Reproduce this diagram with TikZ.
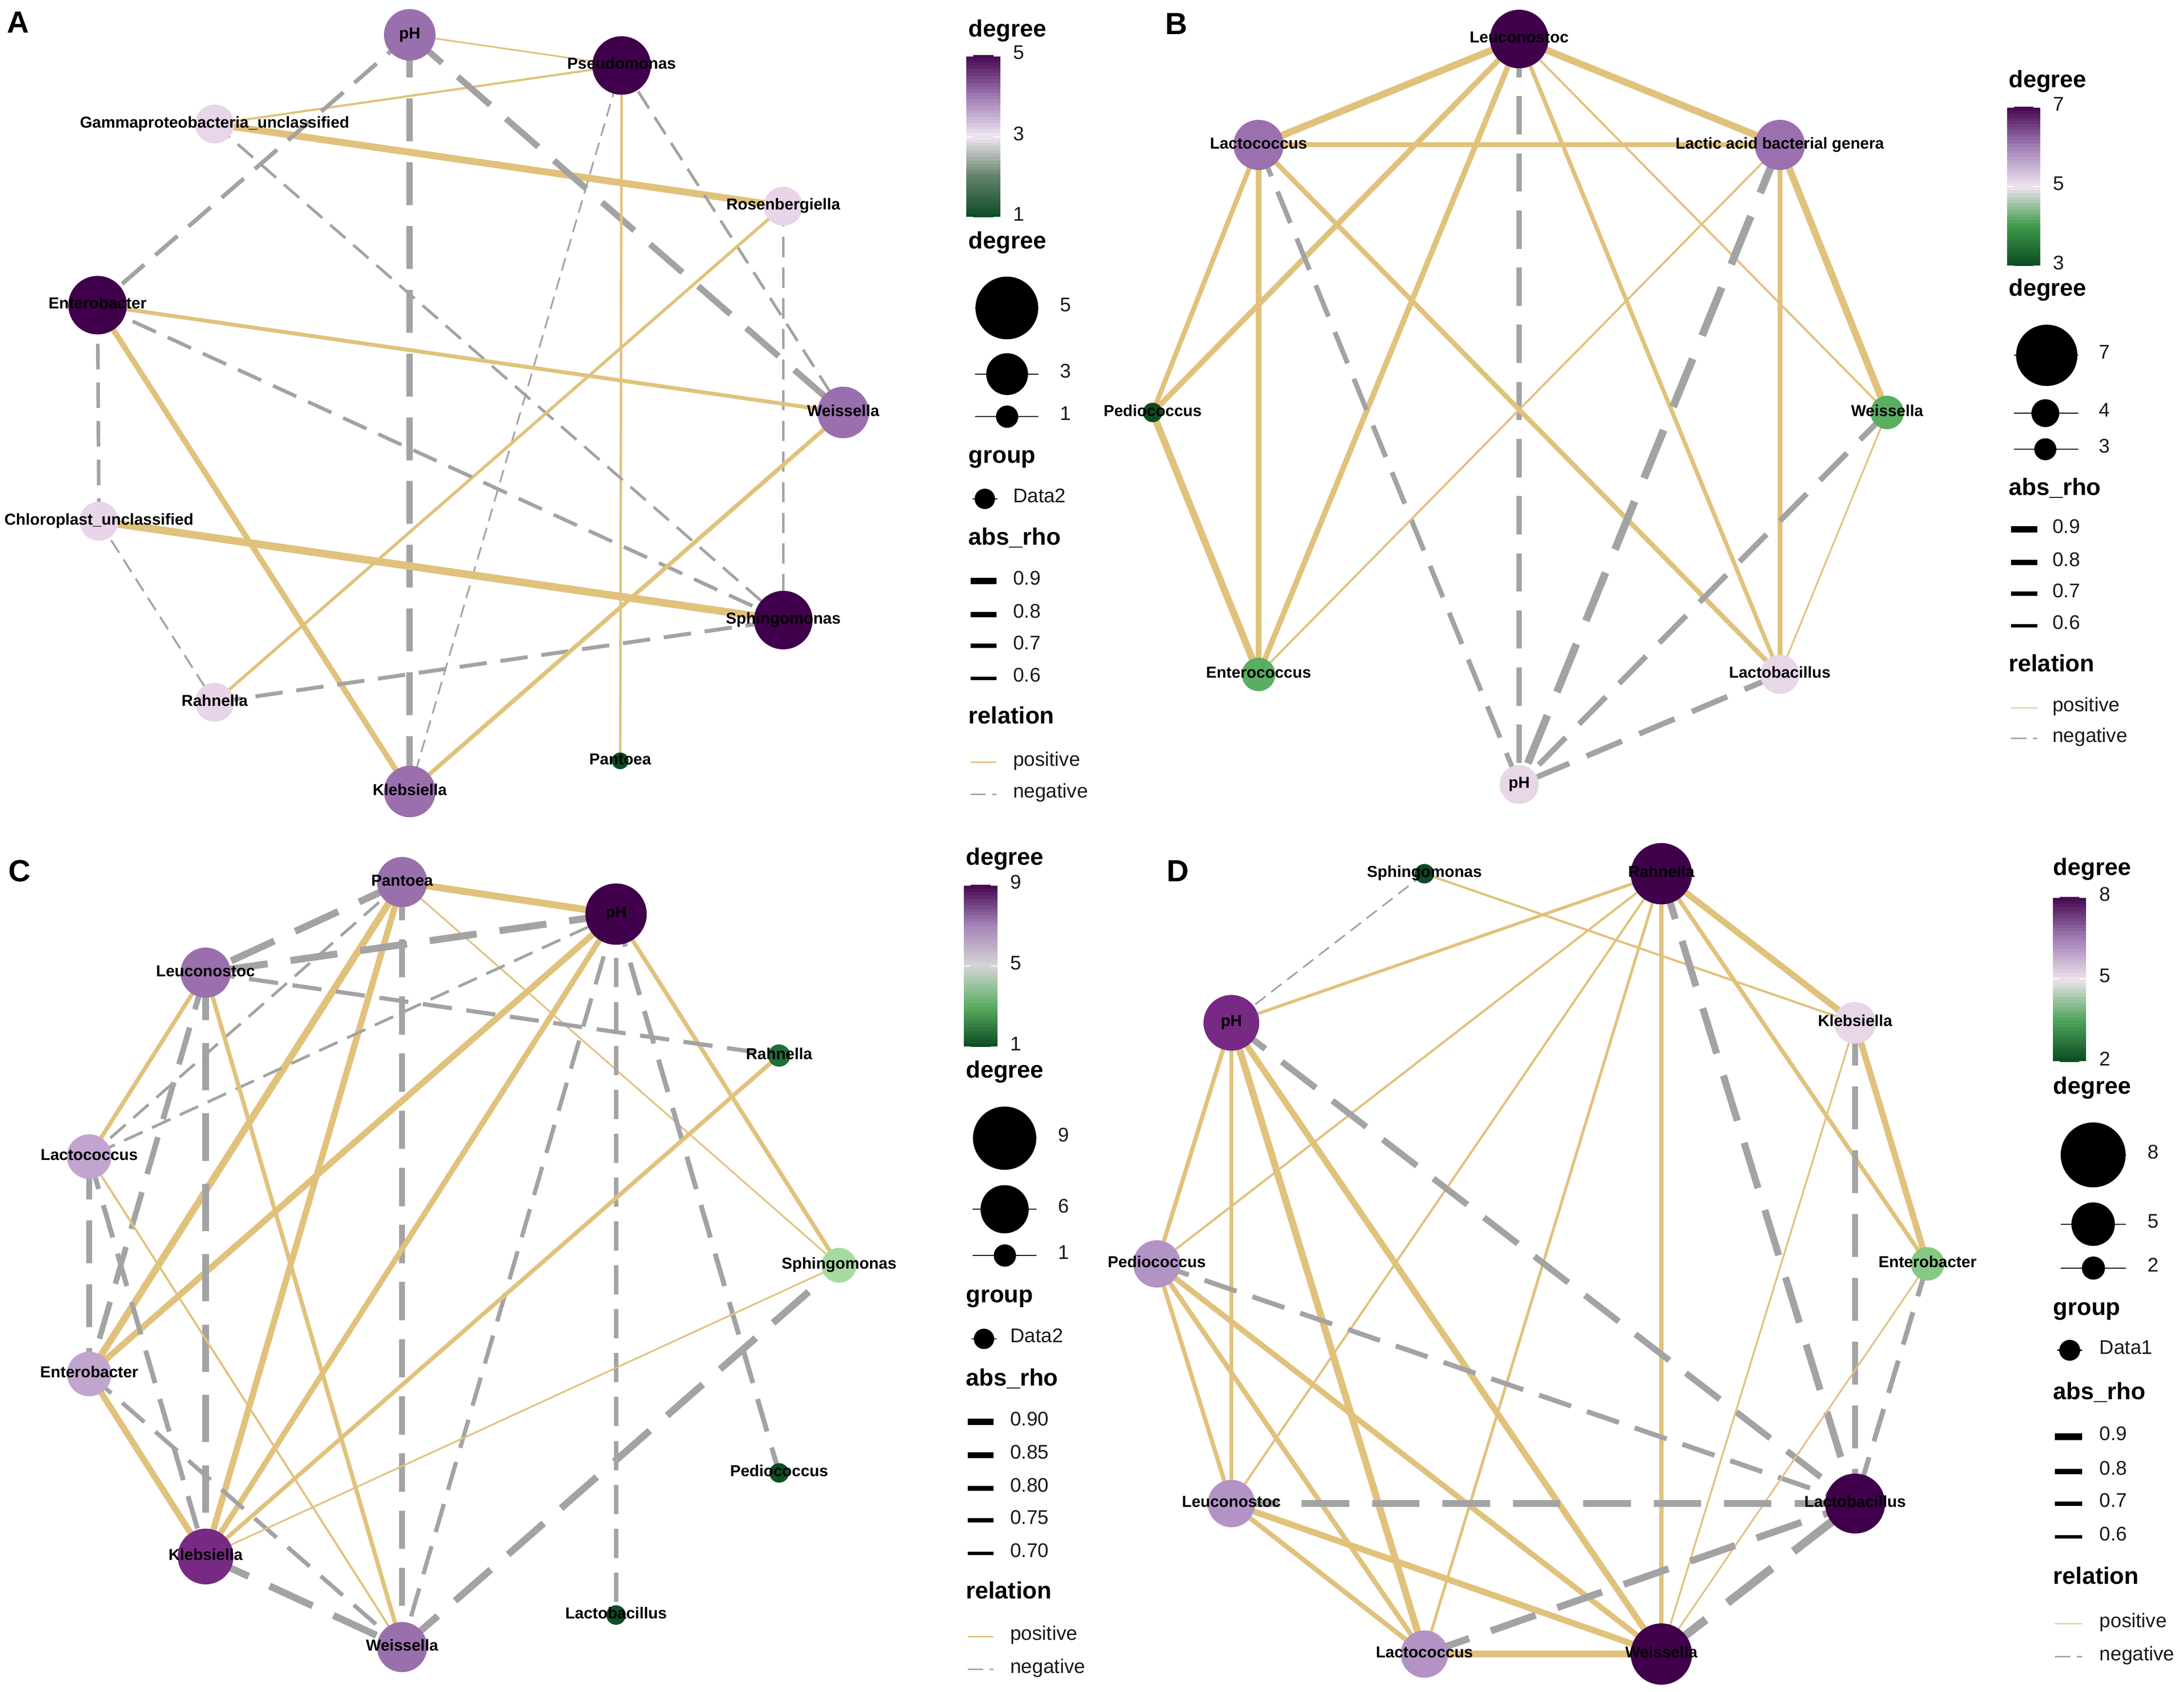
\documentclass[tikz,border=0pt]{standalone}
\usepackage{fontspec}
\setmainfont{Liberation Sans}
\pgfdeclarelayer{bg}
\pgfsetlayers{bg,main}
\definecolor{posc}{HTML}{E1C27C}
\definecolor{negc}{HTML}{A3A3A3}
% panel A node colours
\definecolor{cA5}{HTML}{40004B}\definecolor{cA4}{HTML}{9A6FAE}\definecolor{cA3}{HTML}{E8D5E9}\definecolor{cA1}{HTML}{0D4C25}
\definecolor{cB7}{HTML}{40004B}\definecolor{cB6}{HTML}{9A70AE}\definecolor{cB5}{HTML}{E8D6E9}\definecolor{cB4}{HTML}{5AAE61}\definecolor{cB3}{HTML}{0D4A24}
\definecolor{cC9}{HTML}{40004B}\definecolor{cC8}{HTML}{762A83}\definecolor{cC7}{HTML}{9970AB}\definecolor{cC6}{HTML}{C2A5CF}\definecolor{cC4}{HTML}{A6DBA0}\definecolor{cC2}{HTML}{1F6E37}\definecolor{cC1}{HTML}{0F4F26}
\definecolor{cD8}{HTML}{40004B}\definecolor{cD7}{HTML}{762A83}\definecolor{cD6}{HTML}{B393C6}\definecolor{cD5}{HTML}{E8D6E9}\definecolor{cD4}{HTML}{86C984}\definecolor{cD2}{HTML}{0D4A24}
% gradient stops (bottom to top)
\definecolor{gA0}{HTML}{0D4A24}\definecolor{gA1}{HTML}{62806A}\definecolor{gA2}{HTML}{F1E8F1}\definecolor{gA3}{HTML}{9D79B1}\definecolor{gA4}{HTML}{45064F}
\definecolor{gB0}{HTML}{0B4A22}\definecolor{gB1}{HTML}{3E9A4B}\definecolor{gB2}{HTML}{EEE5EE}\definecolor{gB3}{HTML}{A180B6}\definecolor{gB4}{HTML}{45064F}
\definecolor{gC0}{HTML}{0A4A22}\definecolor{gC1}{HTML}{5AAE61}\definecolor{gC2}{HTML}{D5D5D5}\definecolor{gC3}{HTML}{A585B8}\definecolor{gC4}{HTML}{45064F}
\definecolor{gD0}{HTML}{0B4A22}\definecolor{gD1}{HTML}{4EA558}\definecolor{gD2}{HTML}{EDE3ED}\definecolor{gD3}{HTML}{A07EB4}\definecolor{gD4}{HTML}{45064F}
\tikzset{
  nd/.style={circle, inner sep=0pt, minimum size=#1, draw=none},
  lbl/.style={font=\bfseries\fontsize{11.4}{12}\selectfont, text=black, inner sep=0pt, anchor=mid},
  ttl/.style={font=\bfseries\fontsize{17}{18}\selectfont, text=black, inner sep=0pt, anchor=mid west},
  lgt/.style={font=\fontsize{14.2}{15}\selectfont, text=black!90, inner sep=0pt, anchor=mid west},
  letter/.style={font=\bfseries\fontsize{22}{24}\selectfont, text=black, inner sep=0pt},
  keyline/.style={black, line width=0.8pt},
}
\newcommand\posE[3]{\draw[posc, line width=#1pt] (#2.center) -- (#3.center);}
\newcommand\negE[3]{\pgfmathsetmacro\dOn{6.5*#1+1.5}\pgfmathsetmacro\dOff{3*#1+1.5}%
  \draw[negc, line width=#1pt, dash pattern=on \dOn pt off \dOff pt] (#2.center) -- (#3.center);}
\newcommand\gbar[9]{%
  \foreach \s/\ca/\cb in {0/#5/#6,1/#6/#7,2/#7/#8,3/#8/#9}{%
    \foreach \k in {0,...,11}{%
      \pgfmathtruncatemacro\gpp{round(100*(\k+0.5)/12)}%
      \pgfmathsetmacro\gya{#4-(#4-#3)*(\s+\k/12)/4}%
      \pgfmathsetmacro\gyb{#4-(#4-#3)*(\s+(\k+1)/12)/4-0.4}%
      \fill[fill={\cb!\gpp!\ca}] (#1,\gya) rectangle (#2,\gyb);
    }%
  }%
}
\begin{document}
\begin{tikzpicture}[x=1pt,y=-1pt]
\useasboundingbox (0,0) rectangle (1567,1214);
\begin{pgfonlayer}{bg}
\fill[white] (0,0) rectangle (1567,1214);
\end{pgfonlayer}

% ================= Panel A =================
\node[letter] (labA) at (13,16) {A};
\node[nd=37pt, fill=cA4] (A-pH) at (294,25) {};
\node[nd=42pt, fill=cA5] (A-Pse) at (446,47) {};
\node[nd=28pt, fill=cA3] (A-Gam) at (154,89) {};
\node[nd=28pt, fill=cA3] (A-Ros) at (562,148) {};
\node[nd=42pt, fill=cA5] (A-Ent) at (70,219) {};
\node[nd=37pt, fill=cA4] (A-Wei) at (605,296) {};
\node[nd=28pt, fill=cA3] (A-Chl) at (71,374) {};
\node[nd=42pt, fill=cA5] (A-Sph) at (562,445) {};
\node[nd=28pt, fill=cA3] (A-Rah) at (154,504) {};
\node[nd=12pt, fill=cA1] (A-Pan) at (445,546) {};
\node[nd=37pt, fill=cA4] (A-Kle) at (294,568) {};

% ================= Panel B =================
\node[letter] (labB) at (844,17) {B};
\node[nd=42pt, fill=cB7] (B-Leu) at (1090,28) {};
\node[nd=36pt, fill=cB6] (B-Lcc) at (903,104) {};
\node[nd=36pt, fill=cB6] (B-Lab) at (1277,104) {};
\node[nd=14pt, fill=cB3] (B-Ped) at (827,296) {};
\node[nd=24pt, fill=cB4] (B-Wei) at (1354,296) {};
\node[nd=24pt, fill=cB4] (B-Ent) at (903,484) {};
\node[nd=28pt, fill=cB5] (B-Lba) at (1277,484) {};
\node[nd=28pt, fill=cB5] (B-pH) at (1090,563) {};

% ================= Panel C =================
\node[letter] (labC) at (14,625) {C};
\node[nd=36pt, fill=cC7] (C-Pan) at (288.5,633) {};
\node[nd=44pt, fill=cC9] (C-pH) at (442,656) {};
\node[nd=36pt, fill=cC7] (C-Leu) at (147.5,698) {};
\node[nd=16pt, fill=cC2] (C-Rah) at (559,757.5) {};
\node[nd=32pt, fill=cC6] (C-Lcc) at (64,830) {};
\node[nd=25pt, fill=cC4] (C-Sph) at (602,908) {};
\node[nd=32pt, fill=cC6] (C-Ent) at (64,986) {};
\node[nd=14pt, fill=cC1] (C-Ped) at (559,1057) {};
\node[nd=40pt, fill=cC8] (C-Kle) at (147.5,1117) {};
\node[nd=14pt, fill=cC1] (C-Lba) at (442,1159) {};
\node[nd=36pt, fill=cC7] (C-Wei) at (288.5,1182) {};

% ================= Panel D =================
\node[letter] (labD) at (845,625) {D};
\node[nd=14pt, fill=cD2] (D-Sph) at (1022,627) {};
\node[nd=44pt, fill=cD8] (D-Rah) at (1192,627) {};
\node[nd=40pt, fill=cD7] (D-pH) at (883.5,734) {};
\node[nd=30pt, fill=cD5] (D-Kle) at (1331,734) {};
\node[nd=34pt, fill=cD6] (D-Ped) at (830,907) {};
\node[nd=24pt, fill=cD4] (D-Ent) at (1383,907) {};
\node[nd=34pt, fill=cD6] (D-Leu) at (883.5,1079) {};
\node[nd=43pt, fill=cD8] (D-Lba) at (1331,1079) {};
\node[nd=34pt, fill=cD6] (D-Lcc) at (1022,1187) {};
\node[nd=44pt, fill=cD8] (D-Wei) at (1192,1187) {};

% ================= Edges =================
\begin{pgfonlayer}{bg}
% A
\posE{1.2}{A-pH}{A-Pse}
\posE{1.6}{A-Pse}{A-Gam}
\posE{5}{A-Gam}{A-Ros}
\negE{3}{A-pH}{A-Ent}
\negE{4.5}{A-pH}{A-Kle}
\negE{4.5}{A-pH}{A-Wei}
\negE{2}{A-Pse}{A-Wei}
\negE{1.2}{A-Pse}{A-Kle}
\posE{1.8}{A-Pse}{A-Pan}
\negE{2}{A-Gam}{A-Sph}
\posE{2.2}{A-Ros}{A-Rah}
\negE{2}{A-Ros}{A-Sph}
\posE{2.8}{A-Ent}{A-Wei}
\negE{2.6}{A-Ent}{A-Sph}
\negE{2.6}{A-Ent}{A-Chl}
\posE{4}{A-Ent}{A-Kle}
\posE{5.5}{A-Chl}{A-Sph}
\negE{1.4}{A-Chl}{A-Rah}
\negE{2.8}{A-Rah}{A-Sph}
\posE{3}{A-Wei}{A-Kle}
% B
\posE{5}{B-Leu}{B-Lcc}
\posE{5}{B-Leu}{B-Lab}
\posE{4}{B-Leu}{B-Ped}
\posE{4}{B-Leu}{B-Ent}
\negE{4}{B-Leu}{B-pH}
\posE{3}{B-Leu}{B-Lba}
\posE{1.5}{B-Leu}{B-Wei}
\posE{3.5}{B-Lcc}{B-Lab}
\posE{3.5}{B-Lcc}{B-Ped}
\posE{4}{B-Lcc}{B-Ent}
\negE{3.5}{B-Lcc}{B-pH}
\posE{3.5}{B-Lcc}{B-Lba}
\posE{1.5}{B-Lab}{B-Ent}
\negE{5.5}{B-Lab}{B-pH}
\posE{3.5}{B-Lab}{B-Lba}
\posE{5}{B-Lab}{B-Wei}
\posE{5}{B-Ped}{B-Ent}
\negE{4}{B-Wei}{B-pH}
\posE{1.2}{B-Wei}{B-Lba}
\negE{4}{B-Lba}{B-pH}
% C
\posE{5}{C-Pan}{C-pH}
\negE{5}{C-Pan}{C-Leu}
\negE{2}{C-Pan}{C-Lcc}
\posE{5}{C-Pan}{C-Ent}
\posE{4.5}{C-Pan}{C-Kle}
\negE{4}{C-Pan}{C-Wei}
\posE{1.2}{C-Pan}{C-Sph}
\negE{5}{C-pH}{C-Leu}
\negE{2}{C-pH}{C-Lcc}
\posE{4.5}{C-pH}{C-Ent}
\posE{4}{C-pH}{C-Kle}
\negE{3}{C-pH}{C-Wei}
\negE{3}{C-pH}{C-Lba}
\negE{3.5}{C-pH}{C-Ped}
\posE{3}{C-pH}{C-Sph}
\negE{3}{C-Leu}{C-Rah}
\posE{3}{C-Leu}{C-Lcc}
\negE{4}{C-Leu}{C-Ent}
\negE{5}{C-Leu}{C-Kle}
\posE{3}{C-Leu}{C-Wei}
\negE{4.5}{C-Lcc}{C-Ent}
\negE{3.5}{C-Lcc}{C-Kle}
\posE{1.5}{C-Lcc}{C-Wei}
\posE{4.5}{C-Ent}{C-Kle}
\negE{3}{C-Ent}{C-Wei}
\negE{5}{C-Kle}{C-Wei}
\posE{3}{C-Kle}{C-Rah}
\posE{1.2}{C-Kle}{C-Sph}
\negE{5}{C-Wei}{C-Sph}
% D
\negE{1.2}{D-Sph}{D-pH}
\posE{1.6}{D-Sph}{D-Kle}
\posE{2.2}{D-Rah}{D-pH}
\posE{1.6}{D-Rah}{D-Ped}
\posE{1.6}{D-Rah}{D-Leu}
\posE{2}{D-Rah}{D-Lcc}
\posE{3}{D-Rah}{D-Wei}
\negE{5}{D-Rah}{D-Lba}
\posE{4.5}{D-Rah}{D-Kle}
\posE{3}{D-Rah}{D-Ent}
\posE{3}{D-pH}{D-Ped}
\posE{3}{D-pH}{D-Leu}
\posE{5}{D-pH}{D-Lcc}
\posE{4.5}{D-pH}{D-Wei}
\negE{4.5}{D-pH}{D-Lba}
\posE{4.5}{D-Kle}{D-Ent}
\negE{4.5}{D-Kle}{D-Lba}
\posE{1.3}{D-Kle}{D-Wei}
\posE{3}{D-Ped}{D-Leu}
\posE{3.5}{D-Ped}{D-Lcc}
\posE{4}{D-Ped}{D-Wei}
\negE{3.5}{D-Ped}{D-Lba}
\negE{3.5}{D-Ent}{D-Lba}
\posE{1.2}{D-Ent}{D-Wei}
\negE{5}{D-Leu}{D-Lba}
\posE{3.5}{D-Leu}{D-Lcc}
\posE{4.5}{D-Leu}{D-Wei}
\posE{5}{D-Lcc}{D-Wei}
\negE{5}{D-Lcc}{D-Lba}
\negE{6}{D-Wei}{D-Lba}
\end{pgfonlayer}

% ================= Node labels =================
\node[lbl] (A-pH-t) at (A-pH) {pH};
\node[lbl] (A-Pse-t) at (A-Pse) {Pseudomonas};
\node[lbl] (A-Gam-t) at (A-Gam) {Gammaproteobacteria\_unclassified};
\node[lbl] (A-Ros-t) at (A-Ros) {Rosenbergiella};
\node[lbl] (A-Ent-t) at (A-Ent) {Enterobacter};
\node[lbl] (A-Wei-t) at (A-Wei) {Weissella};
\node[lbl] (A-Chl-t) at (A-Chl) {Chloroplast\_unclassified};
\node[lbl] (A-Sph-t) at (A-Sph) {Sphingomonas};
\node[lbl] (A-Rah-t) at (A-Rah) {Rahnella};
\node[lbl] (A-Pan-t) at (A-Pan) {Pantoea};
\node[lbl] (A-Kle-t) at (A-Kle) {Klebsiella};

\node[lbl] (B-Leu-t) at (B-Leu) {Leuconostoc};
\node[lbl] (B-Lcc-t) at (B-Lcc) {Lactococcus};
\node[lbl] (B-Lab-t) at (B-Lab) {Lactic acid bacterial genera};
\node[lbl] (B-Ped-t) at (B-Ped) {Pediococcus};
\node[lbl] (B-Wei-t) at (B-Wei) {Weissella};
\node[lbl] (B-Ent-t) at (B-Ent) {Enterococcus};
\node[lbl] (B-Lba-t) at (B-Lba) {Lactobacillus};
\node[lbl] (B-pH-t) at (B-pH) {pH};

\node[lbl] (C-Pan-t) at (C-Pan) {Pantoea};
\node[lbl] (C-pH-t) at (C-pH) {pH};
\node[lbl] (C-Leu-t) at (C-Leu) {Leuconostoc};
\node[lbl] (C-Rah-t) at (C-Rah) {Rahnella};
\node[lbl] (C-Lcc-t) at (C-Lcc) {Lactococcus};
\node[lbl] (C-Sph-t) at (C-Sph) {Sphingomonas};
\node[lbl] (C-Ent-t) at (C-Ent) {Enterobacter};
\node[lbl] (C-Ped-t) at (C-Ped) {Pediococcus};
\node[lbl] (C-Kle-t) at (C-Kle) {Klebsiella};
\node[lbl] (C-Lba-t) at (C-Lba) {Lactobacillus};
\node[lbl] (C-Wei-t) at (C-Wei) {Weissella};

\node[lbl] (D-Sph-t) at (D-Sph) {Sphingomonas};
\node[lbl] (D-Rah-t) at (D-Rah) {Rahnella};
\node[lbl] (D-pH-t) at (D-pH) {pH};
\node[lbl] (D-Kle-t) at (D-Kle) {Klebsiella};
\node[lbl] (D-Ped-t) at (D-Ped) {Pediococcus};
\node[lbl] (D-Ent-t) at (D-Ent) {Enterobacter};
\node[lbl] (D-Leu-t) at (D-Leu) {Leuconostoc};
\node[lbl] (D-Lba-t) at (D-Lba) {Lactobacillus};
\node[lbl] (D-Lcc-t) at (D-Lcc) {Lactococcus};
\node[lbl] (D-Wei-t) at (D-Wei) {Weissella};

% ================= Legend A =================
\node[ttl] (LA-t1) at (694.8,23.6) {degree};
\gbar{693.4}{717.8}{40}{156}{gA0}{gA1}{gA2}{gA3}{gA4}
\foreach \yy in {40,98.3,156} {\draw[white, line width=0.8pt] (693.4,\yy) -- (698.3,\yy) (712.9,\yy) -- (717.8,\yy);}
\node[lgt] (LA-c5) at (726.7,40) {5};
\node[lgt] (LA-c3) at (726.7,98.3) {3};
\node[lgt] (LA-c1) at (726.7,156) {1};
\node[ttl] (LA-t2) at (694.8,176) {degree};
\draw[keyline] (699.6,221) -- (745.2,221); \fill (722.4,221) circle (22.5pt);
\draw[keyline] (699.6,268.5) -- (745.2,268.5); \fill (722.6,268.5) circle (15pt);
\draw[keyline] (699.6,299) -- (745.2,299); \fill (722.6,299) circle (8pt);
\node[lgt] (LA-s5) at (760.5,221) {5};
\node[lgt] (LA-s3) at (760.5,268.5) {3};
\node[lgt] (LA-s1) at (760.5,299) {1};
\node[ttl] (LA-t3) at (694.8,329.5) {group};
\draw[keyline] (698,358) -- (715.5,358); \fill (706.6,358) circle (7.3pt);
\node[lgt] (LA-g) at (726.7,358) {Data2};
\node[ttl] (LA-t4) at (694.8,388.5) {abs\_rho};
\draw[black, line width=4.6pt] (696.4,417) -- (715,417);
\draw[black, line width=3.8pt] (696.4,441) -- (715,441);
\draw[black, line width=3.1pt] (696.4,463.5) -- (715,463.5);
\draw[black, line width=2.4pt] (696.4,486.8) -- (715,486.8);
\node[lgt] (LA-r9) at (726.7,417) {0.9};
\node[lgt] (LA-r8) at (726.7,441) {0.8};
\node[lgt] (LA-r7) at (726.7,463.5) {0.7};
\node[lgt] (LA-r6) at (726.7,486.8) {0.6};
\node[ttl] (LA-t5) at (694.8,516.8) {relation};
\draw[posc, line width=1pt] (696.4,547) -- (715,547);
\draw[negc, line width=1pt, dash pattern=on 11pt off 4.5pt] (696.4,570) -- (715,570);
\node[lgt] (LA-p) at (726.7,547) {positive};
\node[lgt] (LA-n) at (726.7,570) {negative};

% ================= Legend B =================
\node[ttl] (LB-t1) at (1441.1,60) {degree};
\gbar{1440}{1463.7}{77}{191}{gB0}{gB1}{gB2}{gB3}{gB4}
\foreach \yy in {77,134,191} {\draw[white, line width=0.8pt] (1440,\yy) -- (1444.8,\yy) (1458.9,\yy) -- (1463.7,\yy);}
\node[lgt] (LB-c7) at (1472.8,77) {7};
\node[lgt] (LB-c5) at (1472.8,134) {5};
\node[lgt] (LB-c3) at (1472.8,191) {3};
\node[ttl] (LB-t2) at (1441.1,209.8) {degree};
\draw[keyline] (1445,255) -- (1491,255); \fill (1468.5,255) circle (22pt);
\draw[keyline] (1445,296.5) -- (1491,296.5); \fill (1467.5,296.5) circle (10pt);
\draw[keyline] (1445,322.4) -- (1491,322.4); \fill (1467.5,322.4) circle (7.9pt);
\node[lgt] (LB-s7) at (1505.8,255) {7};
\node[lgt] (LB-s4) at (1505.8,296.5) {4};
\node[lgt] (LB-s3) at (1505.8,322.4) {3};
\node[ttl] (LB-t4) at (1441.1,352.6) {abs\_rho};
\draw[black, line width=4.6pt] (1443,380) -- (1461.6,380);
\draw[black, line width=3.8pt] (1443,403.7) -- (1461.6,403.7);
\draw[black, line width=3.1pt] (1443,426) -- (1461.6,426);
\draw[black, line width=2.4pt] (1443,449) -- (1461.6,449);
\node[lgt] (LB-r9) at (1472.5,380) {0.9};
\node[lgt] (LB-r8) at (1472.5,403.7) {0.8};
\node[lgt] (LB-r7) at (1472.5,426) {0.7};
\node[lgt] (LB-r6) at (1472.5,449) {0.6};
\node[ttl] (LB-t5) at (1441.1,479.4) {relation};
\draw[posc, line width=1pt] (1443,508) -- (1461.6,508);
\draw[negc, line width=1pt, dash pattern=on 11pt off 4.5pt] (1443,530) -- (1461.6,530);
\node[lgt] (LB-p) at (1472.5,508) {positive};
\node[lgt] (LB-n) at (1472.5,530) {negative};

% ================= Legend C =================
\node[ttl] (LC-t1) at (692.9,618) {degree};
\gbar{691.7}{715.7}{635.3}{751.4}{gC0}{gC1}{gC2}{gC3}{gC4}
\foreach \yy in {635.3,693.4,751.4} {\draw[white, line width=0.8pt] (691.7,\yy) -- (696.5,\yy) (710.9,\yy) -- (715.7,\yy);}
\node[lgt] (LC-c9) at (724.7,635.3) {9};
\node[lgt] (LC-c5) at (724.7,693.4) {5};
\node[lgt] (LC-c1) at (724.7,751.4) {1};
\node[ttl] (LC-t2) at (692.9,771) {degree};
\draw[keyline] (698,816.8) -- (743.6,816.8); \fill (720.8,816.8) circle (22.7pt);
\draw[keyline] (698,867.8) -- (743.6,867.8); \fill (720.8,867.8) circle (17.3pt);
\draw[keyline] (698,901) -- (743.6,901); \fill (721,901) circle (8pt);
\node[lgt] (LC-s9) at (759,816.8) {9};
\node[lgt] (LC-s6) at (759,867.8) {6};
\node[lgt] (LC-s1) at (759,901) {1};
\node[ttl] (LC-t3) at (692.9,932) {group};
\draw[keyline] (697,960.8) -- (715,960.8); \fill (706,960.8) circle (7.3pt);
\node[lgt] (LC-g) at (724.7,960.8) {Data2};
\node[ttl] (LC-t4) at (692.9,991.7) {abs\_rho};
\draw[black, line width=4.6pt] (694.4,1020.4) -- (713,1020.4);
\draw[black, line width=4.1pt] (694.4,1044.2) -- (713,1044.2);
\draw[black, line width=3.6pt] (694.4,1068) -- (713,1068);
\draw[black, line width=3pt] (694.4,1091) -- (713,1091);
\draw[black, line width=2.4pt] (694.4,1114.9) -- (713,1114.9);
\node[lgt] (LC-r90) at (724.7,1020.4) {0.90};
\node[lgt] (LC-r85) at (724.7,1044.2) {0.85};
\node[lgt] (LC-r80) at (724.7,1068) {0.80};
\node[lgt] (LC-r75) at (724.7,1091) {0.75};
\node[lgt] (LC-r70) at (724.7,1114.9) {0.70};
\node[ttl] (LC-t5) at (692.9,1144.7) {relation};
\draw[posc, line width=1pt] (694.4,1174.5) -- (713,1174.5);
\draw[negc, line width=1pt, dash pattern=on 11pt off 4.5pt] (694.4,1198) -- (713,1198);
\node[lgt] (LC-p) at (724.7,1174.5) {positive};
\node[lgt] (LC-n) at (724.7,1198) {negative};

% ================= Legend D =================
\node[ttl] (LD-t1) at (1473,625.4) {degree};
\gbar{1473}{1496.7}{644}{762}{gD0}{gD1}{gD2}{gD3}{gD4}
\foreach \yy in {644,702.4,762} {\draw[white, line width=0.8pt] (1473,\yy) -- (1477.8,\yy) (1491.9,\yy) -- (1496.7,\yy);}
\node[lgt] (LD-c8) at (1506.3,644) {8};
\node[lgt] (LD-c5) at (1506.3,702.4) {5};
\node[lgt] (LD-c2) at (1506.3,762) {2};
\node[ttl] (LD-t2) at (1473,782.3) {degree};
\draw[keyline] (1478.5,828.8) -- (1525.5,828.8); \fill (1501.8,828.8) circle (23.3pt);
\draw[keyline] (1478.5,878.5) -- (1525.5,878.5); \fill (1501.8,878.5) circle (15.6pt);
\draw[keyline] (1478.5,910) -- (1525.5,910); \fill (1502,910) circle (8.3pt);
\node[lgt] (LD-s8) at (1540.6,828.8) {8};
\node[lgt] (LD-s5) at (1540.6,878.5) {5};
\node[lgt] (LD-s2) at (1540.6,910) {2};
\node[ttl] (LD-t3) at (1473,941) {group};
\draw[keyline] (1476,969) -- (1494,969); \fill (1485,969) circle (7.5pt);
\node[lgt] (LD-g) at (1506.3,969) {Data1};
\node[ttl] (LD-t4) at (1473,1001.6) {abs\_rho};
\draw[black, line width=4.6pt] (1474.4,1031) -- (1494,1031);
\draw[black, line width=3.8pt] (1474.4,1056) -- (1494,1056);
\draw[black, line width=3.1pt] (1474.4,1079) -- (1494,1079);
\draw[black, line width=2.4pt] (1474.4,1103) -- (1494,1103);
\node[lgt] (LD-r9) at (1506.3,1031) {0.9};
\node[lgt] (LD-r8) at (1506.3,1056) {0.8};
\node[lgt] (LD-r7) at (1506.3,1079) {0.7};
\node[lgt] (LD-r6) at (1506.3,1103) {0.6};
\node[ttl] (LD-t5) at (1473,1134) {relation};
\draw[posc, line width=1pt] (1474.4,1165.3) -- (1494,1165.3);
\draw[negc, line width=1pt, dash pattern=on 11pt off 4.5pt] (1474.4,1189) -- (1494,1189);
\node[lgt] (LD-p) at (1506.3,1165.3) {positive};
\node[lgt] (LD-n) at (1506.3,1189) {negative};
\end{tikzpicture}
\end{document}
